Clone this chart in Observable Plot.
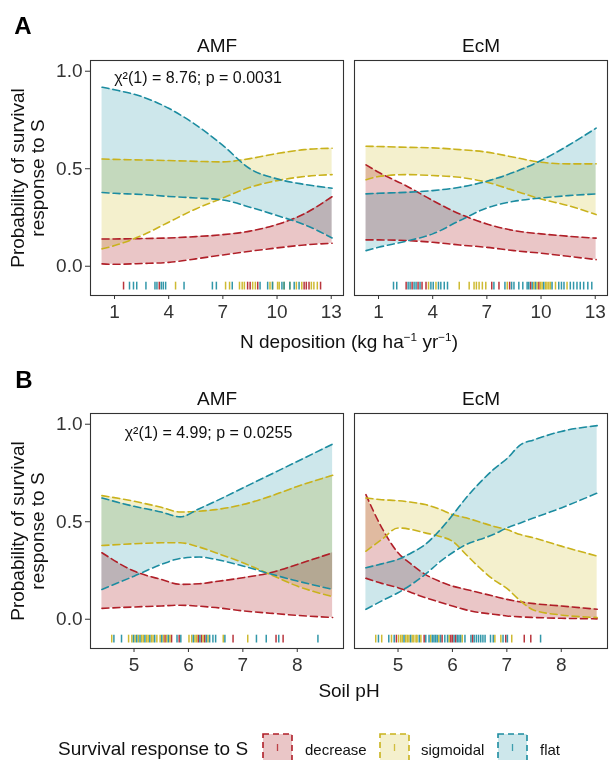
<!DOCTYPE html>
<html><head><meta charset="utf-8">
<script src="https://cdn.jsdelivr.net/npm/d3@7"></script>
<script src="https://cdn.jsdelivr.net/npm/@observablehq/plot@0.6"></script>
<style>
body{margin:0;background:#fff;font-family:"Liberation Sans",Arial,Helvetica,sans-serif;}
#fig{position:relative;width:609px;height:760px;overflow:hidden;background:#fff;}
.t{position:absolute;white-space:nowrap;line-height:1;color:#111;transform:translate(-50%,-50%);}
.l{position:absolute;white-space:nowrap;line-height:1;color:#111;transform:translateY(-50%);}
sup{font-size:0.62em;vertical-align:0.55em;line-height:0;}
</style></head>
<body><div id="fig"></div>
<script>
// ---------------- data ----------------
const facets = ["AMF", "EcM"];
const responses = ["decrease", "sigmoidal", "flat"];
const respCode = {d: "decrease", s: "sigmoidal", f: "flat"};

// Panel A: N deposition
const nTicks = [1, 4, 7, 10, 13];
const nGrid = [0.31, 1, 2.5, 4, 5.5, 7, 8.5, 10, 11.5, 13.05];
const nAmfDecLo  = [.012, .010, .014, .020, .038, .058, .077, .094, .109, .118];
const nAmfDecHi  = [.140, .140, .142, .145, .152, .162, .180, .214, .268, .357];
const nAmfSigLo  = [.089, .106, .157, .226, .294, .350, .405, .439, .460, .470];
const nAmfSigHi  = [.550, .548, .545, .542, .538, .535, .552, .578, .598, .605];
const nAmfFlatLo = [.378, .374, .368, .358, .350, .340, .303, .260, .214, .145];
const nAmfFlatHi = [.918, .905, .870, .810, .725, .620, .500, .448, .420, .400];
const nEcmDecLo  = [.135, .135, .132, .123, .109, .097, .080, .067, .051, .034];
const nEcmDecHi  = [.520, .482, .414, .337, .268, .217, .183, .166, .154, .144];
const nEcmSigLo  = [.444, .460, .470, .465, .456, .431, .388, .345, .311, .265];
const nEcmSigHi  = [.615, .614, .610, .607, .598, .585, .559, .533, .525, .525];
const nEcmFlatLo = [.080, .097, .128, .166, .234, .299, .333, .350, .362, .371];
const nEcmFlatHi = [.371, .374, .379, .388, .405, .436, .482, .542, .619, .708];

const nAmfRugX = [1.50,1.83,2.05,2.23,2.74,3.24,3.35,3.48,3.59,3.70,3.83,4.38,4.85,6.42,6.64,7.15,7.37,7.52,7.92,8.07,8.19,8.37,8.51,8.65,8.80,8.93,9.06,9.48,9.61,9.75,9.75,10.03,10.12,10.27,10.39,10.39,10.71,10.71,10.95,11.07,11.22,11.37,11.50,11.62,11.77,11.90,12.04,12.23,12.41];
const nAmfRugR = ["d","f","f","f","f","f","f","d","f","f","f","s","f","f","f","s","s","f","s","s","s","d","d","s","s","d","f","f","s","f","s","s","s","f","f","s","f","s","f","s","f","s","d","d","d","s","s","s","d"];
const nEcmRugX = [1.83,2.01,2.53,2.64,2.75,2.86,2.97,3.08,3.19,3.30,3.41,3.63,3.77,3.90,4.03,4.18,4.32,4.45,4.64,4.82,5.47,6.02,6.29,6.42,6.57,6.75,6.94,7.27,7.39,7.67,8.00,8.13,8.26,8.37,8.50,8.77,8.99,9.23,9.32,9.42,9.51,9.60,9.69,9.78,9.88,9.97,10.06,10.15,10.25,10.33,10.43,10.52,10.61,10.80,10.98,11.13,11.27,11.44,11.62,11.80,11.99,12.17,12.36,12.59,12.81];
const nEcmRugR = ["f","f","d","f","f","d","f","f","d","f","d","d","s","f","f","s","f","f","f","f","s","s","s","s","s","s","s","d","f","d","f","s","d","f","f","f","f","f","f","d","f","s","f","s","d","s","s","f","s","s","s","s","f","s","f","f","f","s","f","f","f","f","f","f","f"];

// Panel B: soil pH
const phTicks = [5, 6, 7, 8];
const phAmfGrid = [4.41, 5, 5.5, 5.85, 6.2, 6.5, 7, 7.5, 8, 8.65];
const phAmfDecLo  = [.056, .063, .068, .072, .067, .060, .043, .031, .020, .009];
const phAmfDecHi  = [.341, .247, .204, .179, .182, .193, .213, .238, .281, .341];
const phAmfSigLo  = [.378, .387, .392, .392, .370, .341, .290, .230, .170, .116];
const phAmfSigHi  = [.634, .605, .574, .550, .554, .562, .588, .630, .681, .738];
const phAmfFlatLo = [.153, .221, .281, .312, .319, .307, .273, .233, .196, .153];
const phAmfFlatHi = [.622, .579, .550, .525, .567, .605, .673, .741, .809, .898];
const phEcmGrid = [4.41, 4.7, 5, 5.25, 5.5, 5.75, 6, 6.25, 6.5, 6.75, 7, 7.25, 7.5, 8, 8.66];
const phEcmDecLo  = [.210, .184, .162, .136, .111, .089, .068, .048, .034, .026, .017, .012, .009, .005, .002];
const phEcmDecHi  = [.639, .470, .341, .281, .230, .196, .170, .153, .136, .119, .102, .089, .080, .068, .051];
const phEcmSigLo  = [.349, .409, .468, .460, .443, .426, .400, .332, .264, .204, .158, .094, .046, .022, .009];
const phEcmSigHi  = [.622, .613, .608, .600, .588, .566, .537, .520, .499, .477, .460, .434, .417, .375, .324];
const phEcmFlatLo = [.051, .094, .136, .179, .230, .290, .341, .383, .409, .434, .468, .494, .520, .571, .647];
const phEcmFlatHi = [.264, .284, .307, .341, .383, .451, .533, .622, .699, .767, .823, .894, .920, .963, .993];

const phAmfRugX = [4.59,4.63,4.77,4.90,4.96,4.99,5.02,5.05,5.08,5.11,5.14,5.17,5.20,5.23,5.26,5.29,5.32,5.35,5.38,5.42,5.48,5.51,5.54,5.57,5.60,5.63,5.66,5.69,5.79,5.83,5.86,6.01,6.06,6.09,6.12,6.15,6.18,6.21,6.24,6.27,6.30,6.33,6.36,6.39,6.45,6.50,6.64,6.67,6.82,7.09,7.25,7.43,7.61,7.66,7.74,8.38];
const phAmfRugR = ["s","f","f","s","s","f","s","f","s","f","s","s","f","s","s","f","s","s","f","s","s","f","s","d","s","f","s","d","f","d","f","s","s","f","s","s","d","f","d","s","d","f","s","f","f","f","s","f","d","s","f","f","d","f","d","f"];
const phEcmRugX = [4.59,4.64,4.70,4.83,4.88,4.93,4.97,5.01,5.05,5.08,5.11,5.14,5.17,5.20,5.23,5.26,5.29,5.33,5.35,5.39,5.42,5.48,5.51,5.57,5.60,5.63,5.66,5.69,5.72,5.75,5.78,5.81,5.86,5.91,5.94,5.97,6.00,6.03,6.06,6.09,6.12,6.15,6.18,6.23,6.34,6.37,6.40,6.44,6.48,6.52,6.56,6.60,6.70,6.75,6.78,6.89,6.93,6.98,7.01,7.09,7.32,7.44,7.62];
const phEcmRugR = ["s","f","s","f","s","f","d","s","s","s","f","s","s","s","f","s","s","s","s","f","s","d","f","f","s","f","f","f","f","s","f","d","f","f","s","d","d","f","d","f","f","f","s","f","f","d","f","f","f","f","f","f","f","f","s","s","f","d","f","s","d","d","f"];

const chiA = "χ²(1) = 8.76; p = 0.0031";
const chiB = "χ²(1) = 4.99; p = 0.0255";

// ---------------- styles ----------------
const lineColor = {decrease: "#b01f28", sigmoidal: "#c9b21c", flat: "#1c8ca0"};
const fillColor = {decrease: "#eac6c7", sigmoidal: "#f4f0cd", flat: "#cde7eb"};
const FONT = "Liberation Sans, Arial, Helvetica, sans-serif";

function makePanel(o) {
  const rows = [];
  o.series.forEach(s => s.grid.forEach((x, i) => rows.push({fx: s.fx, resp: s.resp, x, lo: s.lo[i], hi: s.hi[i]})));
  const rug = [];
  o.rugs.forEach(r => r.x.forEach((x, i) => rug.push({fx: r.fx, resp: respCode[r.r[i]], x})));
  const marks = [];
  responses.forEach(resp => {
    marks.push(Plot.areaY(rows.filter(d => d.resp === resp), {
      x: "x", y1: "lo", y2: "hi", fx: "fx", fill: fillColor[resp],
      curve: "monotone-x", mixBlendMode: "multiply"
    }));
  });
  responses.forEach(resp => {
    ["lo", "hi"].forEach(k => {
      marks.push(Plot.lineY(rows.filter(d => d.resp === resp), {
        x: "x", y: k, fx: "fx", stroke: lineColor[resp], strokeWidth: 1.6,
        strokeDasharray: "7,4", curve: "monotone-x"
      }));
    });
  });
  responses.forEach(resp => {
    marks.push(Plot.ruleX(rug.filter(d => d.resp === resp), {
      x: "x", fx: "fx", stroke: lineColor[resp], strokeWidth: 1.5, strokeOpacity: 0.9,
      insetTop: 221.7, insetBottom: 5.5
    }));
  });
  marks.push(Plot.frame({stroke: "#333", strokeWidth: 1.1}));
  marks.push(Plot.axisX({ticks: o.xTicks, tickFormat: d3.format("d"), tickSize: 4, tickPadding: 5, fontSize: 19, label: null, stroke: "#333", fill: "#333"}));
  marks.push(Plot.axisY({ticks: [0, 0.5, 1], tickFormat: d3.format(".1f"), tickSize: 5, tickPadding: 3, fontSize: 19, label: null, stroke: "#333", fill: "#333"}));
  marks.push(Plot.text(facets, {fx: d => d, text: d => d, frameAnchor: "top", dy: -15, fontSize: 19, lineAnchor: "middle", fill: "#111"}));
  marks.push(Plot.text([o.chi], {fx: ["AMF"], text: d => d, frameAnchor: "top", dx: o.chiDx, dy: o.chiDy, fontSize: 16, lineAnchor: "middle", fill: "#111"}));
  const svg = Plot.plot({
    width: 609, height: 360, marginTop: 60, marginBottom: 65, marginLeft: 90, marginRight: 1,
    style: {fontFamily: FONT, background: "transparent", overflow: "visible"},
    x: {domain: o.xDomain},
    y: {domain: [-0.15, 1.055]},
    fx: {domain: facets, paddingInner: 0.0416, paddingOuter: 0, axis: null, label: null},
    marks
  });
  svg.style.position = "absolute";
  svg.style.left = "0px";
  svg.style.top = o.top + "px";
  return svg;
}

const fig = document.getElementById("fig");

fig.appendChild(makePanel({
  top: 0, xDomain: [-0.33, 13.68], xTicks: nTicks, chi: chiA, chiDx: -19, chiDy: 17.7,
  series: [
    {fx: "AMF", resp: "decrease", grid: nGrid, lo: nAmfDecLo, hi: nAmfDecHi},
    {fx: "AMF", resp: "sigmoidal", grid: nGrid, lo: nAmfSigLo, hi: nAmfSigHi},
    {fx: "AMF", resp: "flat", grid: nGrid, lo: nAmfFlatLo, hi: nAmfFlatHi},
    {fx: "EcM", resp: "decrease", grid: nGrid, lo: nEcmDecLo, hi: nEcmDecHi},
    {fx: "EcM", resp: "sigmoidal", grid: nGrid, lo: nEcmSigLo, hi: nEcmSigHi},
    {fx: "EcM", resp: "flat", grid: nGrid, lo: nEcmFlatLo, hi: nEcmFlatHi}
  ],
  rugs: [{fx: "AMF", x: nAmfRugX, r: nAmfRugR}, {fx: "EcM", x: nEcmRugX, r: nEcmRugR}]
}));

fig.appendChild(makePanel({
  top: 353, xDomain: [4.2, 8.85], xTicks: phTicks, chi: chiB, chiDx: -8.5, chiDy: 19,
  series: [
    {fx: "AMF", resp: "decrease", grid: phAmfGrid, lo: phAmfDecLo, hi: phAmfDecHi},
    {fx: "AMF", resp: "sigmoidal", grid: phAmfGrid, lo: phAmfSigLo, hi: phAmfSigHi},
    {fx: "AMF", resp: "flat", grid: phAmfGrid, lo: phAmfFlatLo, hi: phAmfFlatHi},
    {fx: "EcM", resp: "decrease", grid: phEcmGrid, lo: phEcmDecLo, hi: phEcmDecHi},
    {fx: "EcM", resp: "sigmoidal", grid: phEcmGrid, lo: phEcmSigLo, hi: phEcmSigHi},
    {fx: "EcM", resp: "flat", grid: phEcmGrid, lo: phEcmFlatLo, hi: phEcmFlatHi}
  ],
  rugs: [{fx: "AMF", x: phAmfRugX, r: phAmfRugR}, {fx: "EcM", x: phEcmRugX, r: phEcmRugR}]
}));

// ---------------- text outside the panels ----------------
function addText(html, x, y, size, cls = "t", extra = "") {
  const d = document.createElement("div");
  d.className = cls;
  d.innerHTML = html;
  d.style.cssText += `left:${x}px;top:${y}px;font-size:${size}px;${extra}`;
  fig.appendChild(d);
  return d;
}
addText("A", 23, 26, 24, "t", "font-weight:bold;color:#000;");
addText("B", 24, 380, 24, "t", "font-weight:bold;color:#000;");
addText("Probability of survival<br>response to S", 28, 177.5, 19, "t", "transform:translate(-50%,-50%) rotate(-90deg);text-align:center;line-height:20px;");
addText("Probability of survival<br>response to S", 28, 530.5, 19, "t", "transform:translate(-50%,-50%) rotate(-90deg);text-align:center;line-height:20px;");
addText("N deposition (kg ha<sup>−1</sup> yr<sup>−1</sup>)", 349, 341, 19);
addText("Soil pH", 349, 690, 19);

// legend
addText("Survival response to S", 58, 748, 19, "l");
const keyX = {decrease: 262, sigmoidal: 379, flat: 497};
const labX = {decrease: 305, sigmoidal: 421, flat: 540};
responses.forEach(resp => {
  const svg = d3.create("svg").attr("width", 31).attr("height", 30)
    .style("position", "absolute").style("left", keyX[resp] + "px").style("top", "733px");
  svg.append("rect").attr("x", 1).attr("y", 1).attr("width", 29).attr("height", 28)
    .attr("fill", fillColor[resp]).attr("stroke", lineColor[resp])
    .attr("stroke-width", 1.6).attr("stroke-dasharray", "6,4");
  svg.append("line").attr("x1", 15.5).attr("x2", 15.5).attr("y1", 11).attr("y2", 18)
    .attr("stroke", lineColor[resp]).attr("stroke-width", 1.3).attr("stroke-opacity", 0.8);
  fig.appendChild(svg.node());
  addText(resp, labX[resp], 749, 15, "l");
});
</script>
</body></html>
